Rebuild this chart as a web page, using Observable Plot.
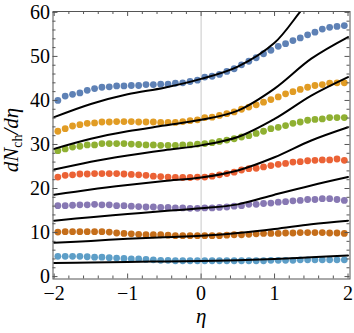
<!DOCTYPE html>
<html><head><meta charset="utf-8">
<script src="https://cdn.jsdelivr.net/npm/d3@7"></script>
<script src="https://cdn.jsdelivr.net/npm/@observablehq/plot@0.6"></script>
<style>html,body{margin:0;padding:0;background:#fff}</style>
</head><body><div id="chart"></div>
<script>
// pseudorapidity bin centres of the data points
const eta = [-1.95,-1.85,-1.75,-1.65,-1.55,-1.45,-1.35,-1.25,-1.15,-1.05,-0.95,-0.85,-0.75,-0.65,-0.55,-0.45,-0.35,-0.25,-0.15,-0.05,
             0.05,0.15,0.25,0.35,0.45,0.55,0.65,0.75,0.85,0.95,1.05,1.15,1.25,1.35,1.45,1.55,1.65,1.75,1.85,1.95];
const seriesBlue = [40.0,41.0,41.4,41.7,42.3,42.7,43.0,43.1,43.3,43.3,43.4,43.4,43.6,43.6,43.7,43.7,43.9,44.0,44.3,44.6,
                    45.3,45.5,45.9,46.6,47.2,48.1,48.9,49.7,50.6,51.4,52.3,52.9,53.6,54.2,54.9,55.5,56.2,56.6,56.8,57.0];
const seriesOrange = [33.0,33.6,34.2,34.5,34.8,34.9,35.1,35.1,35.2,35.2,35.2,35.1,35.1,35.1,35.0,35.0,35.0,35.2,35.4,35.6,
                      36.1,36.2,36.6,37.0,37.4,38.0,38.5,39.0,39.6,40.2,40.8,41.5,42.0,42.5,43.0,43.4,43.6,43.9,44.0,44.0];
const seriesGreen = [28.6,29.0,29.4,29.6,29.9,29.9,30.2,30.2,30.2,30.2,30.1,30.0,29.9,29.9,29.8,29.8,29.8,29.9,29.9,30.1,
                     30.2,30.4,30.7,31.0,31.3,31.7,32.0,32.5,33.0,33.6,33.9,34.3,34.8,35.1,35.5,35.7,35.8,36.1,36.1,36.1];
const seriesRed = [22.6,23.0,23.1,23.3,23.3,23.4,23.4,23.4,23.4,23.3,23.2,23.1,23.0,22.8,22.7,22.6,22.5,22.5,22.5,22.6,
                   22.6,22.8,23.1,23.4,23.7,24.2,24.5,24.6,24.9,25.2,25.5,25.7,26.0,26.1,26.3,26.4,26.5,26.5,26.7,26.4];
const seriesPurple = [16.1,16.1,16.2,16.3,16.3,16.4,16.3,16.3,16.1,16.1,16.0,15.9,15.8,15.8,15.7,15.7,15.6,15.6,15.5,15.5,
                      15.6,15.6,15.7,15.8,16.0,16.1,16.4,16.4,16.6,16.7,16.9,17.0,17.2,17.3,17.5,17.5,17.7,17.7,17.5,17.3];
const seriesBrown = [10.1,10.2,10.2,10.2,10.2,10.2,10.2,10.1,9.9,9.8,9.7,9.6,9.5,9.5,9.5,9.4,9.3,9.3,9.3,9.3,
                     9.3,9.3,9.3,9.4,9.5,9.5,9.6,9.7,9.8,9.8,9.8,9.9,9.9,10.0,10.0,10.0,10.0,9.9,9.9,9.8];
const seriesLightBlue = [4.6,4.6,4.6,4.6,4.5,4.4,4.4,4.3,4.2,4.1,4.0,4.0,3.9,3.8,3.7,3.7,3.6,3.6,3.6,3.6,
                         3.6,3.6,3.6,3.6,3.6,3.6,3.6,3.6,3.6,3.7,3.7,3.7,3.7,3.8,3.8,3.8,3.8,3.8,3.8,3.8];
const seriesColors = ["#5E81B5","#E19C24","#8FB032","#EB6235","#8778B3","#C56E1A","#5D9EC7"];

// black model curves, read at these eta values
const etaCurve = [-2,-1.5,-1,-0.5,0,0.5,1,1.5,2];
const curve1 = [36.2,39.2,41.4,42.9,44.9,47.7,53.1,63.0,69.0];
const curve2 = [29.0,31.3,33.0,34.3,35.6,37.7,42.7,49.5,54.4];
const curve3 = [24.3,26.1,27.5,28.7,29.8,31.7,35.8,41.1,45.3];
const curve4 = [18.6,19.8,20.8,21.7,22.5,24.1,27.1,30.9,33.9];
const curve5 = [12.7,13.5,14.2,14.9,15.5,16.4,18.6,20.7,22.6];
const curve6 = [7.7,8.1,8.6,8.95,9.25,9.9,10.8,11.9,12.7];
const curve7 = [3.1,3.2,3.3,3.45,3.55,3.7,4.0,4.4,4.8];

const xMajor = [-2,-1,0,1,2];
const yMajor = [0,10,20,30,40,50,60];

const series = [seriesBlue,seriesOrange,seriesGreen,seriesRed,seriesPurple,seriesBrown,seriesLightBlue];
const curves = [curve1,curve2,curve3,curve4,curve5,curve6,curve7];
const dotRows = series.flatMap((s,i)=>s.map((v,j)=>({eta:eta[j], v, c:seriesColors[i]})));
const curveRows = curves.flatMap((s,i)=>s.map((v,j)=>({eta:etaCurve[j], v, id:i})));

const xMinor = d3.range(-2, 2.0001, 0.2).map(d=>+d.toFixed(2)).filter(d=>!xMajor.includes(d));
const yMinor = d3.range(0, 60.001, 2).filter(d=>!yMajor.includes(d));

const W=354, H=333, mL=52.5, mR=4.5, mT=11, mB=54.5;
const xDom=[-2.016,2.027], yDom=[-0.55,60.2];
const pH = H-mT-mB, pW = W-mL-mR;
const ySpan = yDom[1]-yDom[0], xSpan = xDom[1]-xDom[0];
const majL=5, minL=3, frameC="#555";
const fmt = d => d<0 ? "\u2212"+Math.abs(d) : String(d);

const tickMarks = [];
for (const [arr,len] of [[xMajor,majL],[xMinor,minL]]) {
  const dy = len*ySpan/pH;
  tickMarks.push(Plot.ruleX(arr,{x:d=>d,y1:yDom[0],y2:yDom[0]+dy,stroke:frameC}));
  tickMarks.push(Plot.ruleX(arr,{x:d=>d,y1:yDom[1]-dy,y2:yDom[1],stroke:frameC}));
}
for (const [arr,len] of [[yMajor,majL],[yMinor,minL]]) {
  const dx = len*xSpan/pW;
  tickMarks.push(Plot.ruleY(arr,{y:d=>d,x1:xDom[0],x2:xDom[0]+dx,stroke:frameC}));
  tickMarks.push(Plot.ruleY(arr,{y:d=>d,x1:xDom[1]-dx,x2:xDom[1],stroke:frameC}));
}

const chart = Plot.plot({
  width:W, height:H, marginLeft:mL, marginRight:mR, marginTop:mT, marginBottom:mB,
  x:{domain:xDom, label:null}, y:{domain:yDom, label:null},
  style:{fontFamily:"'Liberation Serif','Times New Roman',serif", fontSize:"20px", background:"#fff", color:"#000"},
  marks:[
    Plot.ruleX([0],{stroke:"#c8c8c8",strokeWidth:1}),
    Plot.dot(dotRows,{x:"eta",y:"v",fill:"c",r:3.4,stroke:null}),
    Plot.line(curveRows,{x:"eta",y:"v",z:"id",curve:"catmull-rom",stroke:"#000",strokeWidth:2,clip:true}),
    ...tickMarks,
    Plot.frame({stroke:frameC}),
    Plot.axisX(xMajor,{tickSize:0,tickPadding:7,tickFormat:fmt,label:null,fontSize:20}),
    Plot.axisY(yMajor,{tickSize:0,tickPadding:3,tickFormat:fmt,label:null,fontSize:20}),
    Plot.text(["η"],{x:()=>0,frameAnchor:"bottom",dy:37,fontStyle:"italic",fontSize:21,lineAnchor:"middle"})
  ]
});
document.getElementById("chart").appendChild(chart);

// y-axis title with subscript
const svg = d3.select(chart);
const t = svg.append("text")
  .attr("transform","translate(18,140) rotate(-90)")
  .attr("text-anchor","middle")
  .attr("font-family","'Liberation Serif','Times New Roman',serif")
  .attr("font-size",21);
t.append("tspan").attr("font-style","italic").text("dN");
t.append("tspan").attr("font-size",14).attr("dy",4).text("ch");
t.append("tspan").attr("font-style","italic").attr("dy",-4).text("/d\u03B7");
</script></body></html>
